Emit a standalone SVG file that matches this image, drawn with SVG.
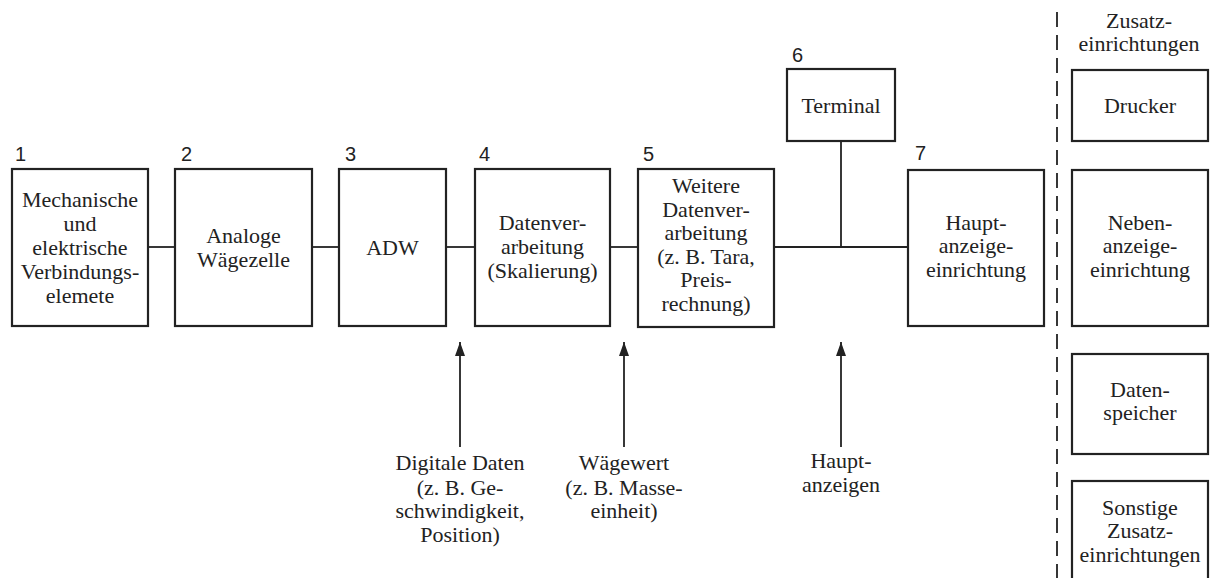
<svg xmlns="http://www.w3.org/2000/svg" width="1211" height="578" viewBox="0 0 1211 578">
<defs>
<style>
.box{fill:#fff;stroke:#222;stroke-width:2.2}
.t{font-family:'Liberation Serif','Times New Roman','DejaVu Serif',serif;font-size:22px;fill:#222;text-anchor:middle}
.n{font-family:'Liberation Sans','DejaVu Sans',sans-serif;font-size:20px;fill:#222}
.c{stroke:#222;stroke-width:1.8;fill:none}
.d{stroke:#222;stroke-width:1.8;fill:none;stroke-dasharray:15 8}
</style>
<marker id="ah" viewBox="0 0 14 10" refX="14" refY="5" markerWidth="14" markerHeight="10" markerUnits="userSpaceOnUse" orient="auto">
<path d="M0,0 L14,5 L0,10 Z" fill="#222"/>
</marker>
</defs>
<rect width="1211" height="578" fill="#fff"/>
<g id="connectors">
<line class="c" x1="148" y1="247" x2="175" y2="247"/>
<line class="c" x1="312" y1="247" x2="339" y2="247"/>
<line class="c" x1="446" y1="247" x2="475" y2="247"/>
<line class="c" x1="610" y1="247" x2="638" y2="247"/>
<line class="c" x1="774" y1="247" x2="908" y2="247"/>
<line class="c" x1="841" y1="141" x2="841" y2="247"/>
<line class="d" x1="1057" y1="12" x2="1057" y2="578"/>
<line class="c" x1="460" y1="447" x2="460" y2="342" marker-end="url(#ah)"/>
<line class="c" x1="624" y1="447" x2="624" y2="342" marker-end="url(#ah)"/>
<line class="c" x1="841" y1="447" x2="841" y2="342" marker-end="url(#ah)"/>
</g>
<g id="node1">
<text class="n" x="15" y="161">1</text>
<rect class="box" x="12" y="169" width="136" height="157"/>
<text class="t" x="80" y="207">Mechanische</text>
<text class="t" x="80" y="231">und</text>
<text class="t" x="80" y="255">elektrische</text>
<text class="t" x="80" y="279">Verbindungs-</text>
<text class="t" x="80" y="303">elemete</text>
</g>
<g id="node2">
<text class="n" x="181" y="161">2</text>
<rect class="box" x="175" y="169" width="137" height="157"/>
<text class="t" x="243.5" y="243">Analoge</text>
<text class="t" x="243.5" y="267">Wägezelle</text>
</g>
<g id="node3">
<text class="n" x="345" y="161">3</text>
<rect class="box" x="339" y="169" width="107" height="157"/>
<text class="t" x="392.5" y="255">ADW</text>
</g>
<g id="node4">
<text class="n" x="479" y="161">4</text>
<rect class="box" x="475" y="169" width="135" height="157"/>
<text class="t" x="542.5" y="230">Datenver-</text>
<text class="t" x="542.5" y="254">arbeitung</text>
<text class="t" x="542.5" y="278">(Skalierung)</text>
</g>
<g id="node5">
<text class="n" x="643" y="161">5</text>
<rect class="box" x="638" y="169" width="136" height="158"/>
<text class="t" x="706" y="193">Weitere</text>
<text class="t" x="706" y="217">Datenver-</text>
<text class="t" x="706" y="240">arbeitung</text>
<text class="t" x="706" y="264">(z. B. Tara,</text>
<text class="t" x="706" y="287">Preis-</text>
<text class="t" x="706" y="311">rechnung)</text>
</g>
<g id="node6">
<text class="n" x="792" y="62">6</text>
<rect class="box" x="787" y="69" width="108" height="72"/>
<text class="t" x="841" y="113">Terminal</text>
</g>
<g id="node7">
<text class="n" x="915" y="160">7</text>
<rect class="box" x="908" y="170" width="136" height="156"/>
<text class="t" x="976" y="230">Haupt-</text>
<text class="t" x="976" y="253">anzeige-</text>
<text class="t" x="976" y="277">einrichtung</text>
</g>
<g id="zusatz-header">
<text class="t" x="1139" y="28">Zusatz-</text>
<text class="t" x="1139" y="51">einrichtungen</text>
</g>
<g id="drucker">
<rect class="box" x="1072" y="70" width="136" height="71"/>
<text class="t" x="1140" y="113">Drucker</text>
</g>
<g id="nebenanzeige">
<rect class="box" x="1072" y="170" width="136" height="156"/>
<text class="t" x="1140" y="230">Neben-</text>
<text class="t" x="1140" y="253">anzeige-</text>
<text class="t" x="1140" y="277">einrichtung</text>
</g>
<g id="datenspeicher">
<rect class="box" x="1072" y="354" width="136" height="100"/>
<text class="t" x="1140" y="397">Daten-</text>
<text class="t" x="1140" y="420">speicher</text>
</g>
<g id="sonstige">
<rect class="box" x="1072" y="481" width="136" height="120"/>
<text class="t" x="1140" y="515">Sonstige</text>
<text class="t" x="1140" y="538">Zusatz-</text>
<text class="t" x="1140" y="562">einrichtungen</text>
</g>
<g id="label-digital">
<text class="t" x="460" y="470">Digitale Daten</text>
<text class="t" x="460" y="495">(z. B. Ge-</text>
<text class="t" x="460" y="518">schwindigkeit,</text>
<text class="t" x="460" y="542">Position)</text>
</g>
<g id="label-waegewert">
<text class="t" x="624" y="470">Wägewert</text>
<text class="t" x="624" y="495">(z. B. Masse-</text>
<text class="t" x="624" y="518">einheit)</text>
</g>
<g id="label-hauptanzeigen">
<text class="t" x="841" y="468">Haupt-</text>
<text class="t" x="841" y="492">anzeigen</text>
</g>
</svg>
